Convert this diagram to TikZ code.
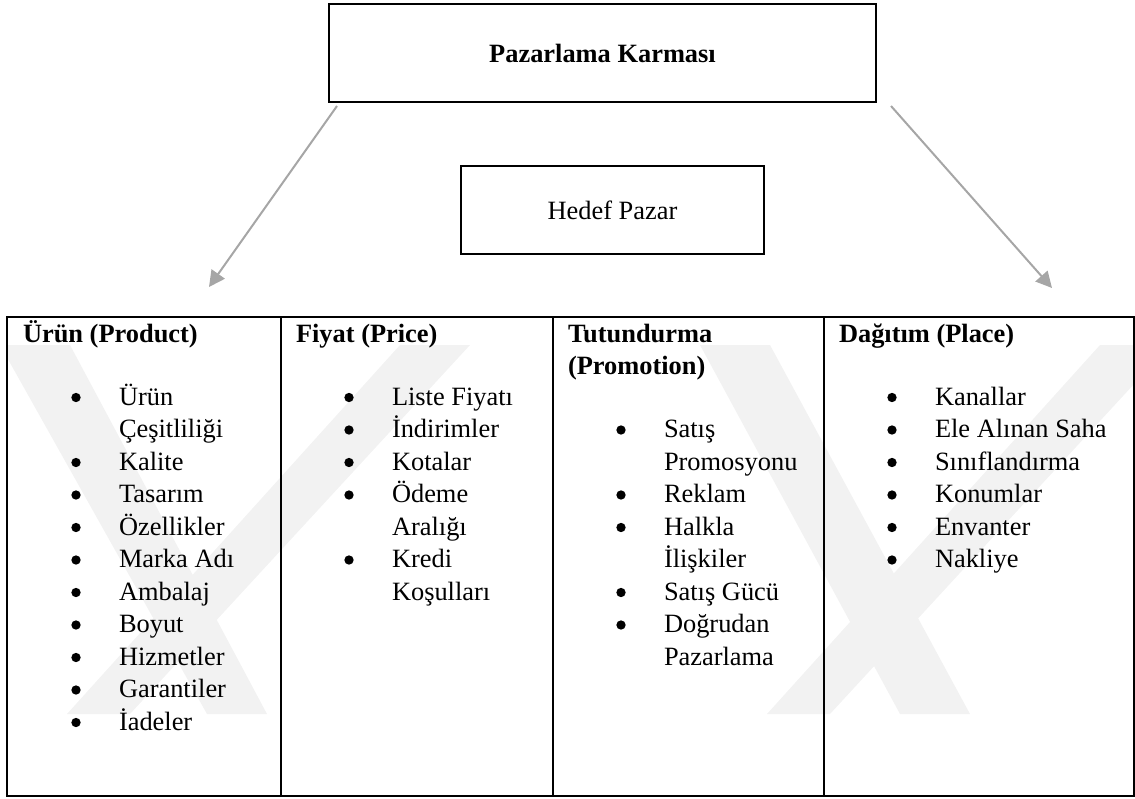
\documentclass[tikz,border=0pt]{standalone}
\usepackage{fontspec}
\setmainfont{Liberation Serif}
\usetikzlibrary{arrows.meta}

\definecolor{arrowgray}{RGB}{166,166,166}
\definecolor{markgray}{RGB}{242,242,242}

\tikzset{
  frame/.style={draw=black, line width=1.9pt, rectangle, inner sep=0pt, outer sep=0pt},
  cell/.style={frame, minimum height=359.25pt},
  bodytext/.style={inner sep=0pt, outer sep=0pt, anchor=base west,
    font=\fontsize{19.8pt}{24.4pt}\selectfont},
  headtext/.style={bodytext, font=\fontsize{19.8pt}{24.4pt}\selectfont\bfseries},
  arrowline/.style={draw=arrowgray, line width=1.5pt,
    -{Triangle[length=12pt,width=12pt]}},
  band/.style={fill=markgray, draw=none},
}

% one bulleted list: text x, bullet x, first baseline, items (text/bullet flag)
\newcommand{\bulletlist}[5]{%
  \foreach \txt/\hasbullet [count=\k] in {#5} {
    \node[bodytext] (#1-\k) at (#2, {#4 + (\k-1)*32.5}) {\txt};
    \ifnum\hasbullet=1
      \fill ([xshift=-43*0.75pt, yshift=7.5*0.75pt]#1-\k.base west) circle (3.5pt);
    \fi
  }%
}

\begin{document}
\begin{tikzpicture}[x=0.75pt, y=-0.75pt]
  \useasboundingbox (0,0) rectangle (1135,799);

  % faint background mark behind the table
  \begin{scope}
    \clip (7,317) rectangle (1134,796);
    \fill[band] (0,345) -- (70,345) -- (267,714) -- (207,714) -- cycle;
    \fill[band] (400,345) -- (470,345) -- (130,714) -- (67,714) -- cycle;
    \fill[band] (700,345) -- (770,345) -- (970,714) -- (900,714) -- cycle;
    \fill[band] (1100,345) -- (1170,345) -- (830,714) -- (767,714) -- cycle;
  \end{scope}

  % top boxes
  \node[frame, minimum width=410.25pt, minimum height=73.5pt,
        font=\fontsize{19.8pt}{24pt}\selectfont\bfseries]
        (mix) at (602.5,53) {Pazarlama Karması};
  \node[frame, minimum width=227.25pt, minimum height=66pt,
        font=\fontsize{19.8pt}{24pt}\selectfont]
        (target) at (612.5,210) {Hedef Pazar};

  % arrows towards the table
  \coordinate (lefttip) at (209,287);
  \coordinate (righttip) at (1052,288);
  \draw[arrowline] ([shift={(8,4)}]mix.south west) -- (lefttip);
  \draw[arrowline] ([shift={(15,4)}]mix.south east) -- (righttip);

  % table cells
  \node[cell, minimum width=205.5pt]  (product)   at (144,556.5) {};
  \node[cell, minimum width=204pt]    (price)     at (417,556.5) {};
  \node[cell, minimum width=203.25pt] (promotion) at (688.5,556.5) {};
  \node[cell, minimum width=232.5pt]  (place)     at (979,556.5) {};

  % headings
  \node[headtext] (h1) at (23,342) {Ürün (Product)};
  \node[headtext] (h2) at (296,342) {Fiyat (Price)};
  \node[headtext] (h3a) at (568,342) {Tutundurma};
  \node[headtext] (h3b) at (568,374.5) {(Promotion)};
  \node[headtext] (h4) at (839,342) {Dağıtım (Place)};

  % lists
  \bulletlist{p}{119}{76}{405}{Ürün/1, Çeşitliliği/0, Kalite/1, Tasarım/1,
    Özellikler/1, Marka Adı/1, Ambalaj/1, Boyut/1, Hizmetler/1,
    Garantiler/1, İadeler/1}
  \bulletlist{f}{392}{349}{405}{Liste Fiyatı/1, İndirimler/1, Kotalar/1,
    Ödeme/1, Aralığı/0, Kredi/1, Koşulları/0}
  \bulletlist{t}{664}{621}{437.5}{Satış/1, Promosyonu/0, Reklam/1, Halkla/1,
    İlişkiler/0, Satış Gücü/1, Doğrudan/1, Pazarlama/0}
  \bulletlist{d}{935}{892}{405}{Kanallar/1, Ele Alınan Saha/1,
    Sınıflandırma/1, Konumlar/1, Envanter/1, Nakliye/1}
\end{tikzpicture}
\end{document}
